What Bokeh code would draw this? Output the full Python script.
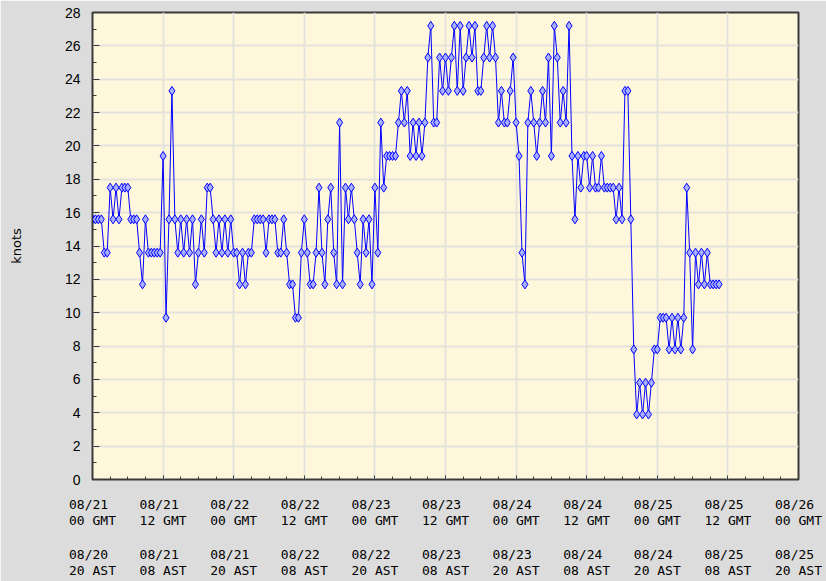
from bokeh.plotting import figure
from bokeh.models import FixedTicker, LinearAxis, Range1d
from bokeh.embed import file_html
from bokeh.resources import INLINE

# wind speed (knots), one reading every half hour, starting 08/21 00 GMT
day_0821 = [15.6, 15.6, 15.6, 15.6, 13.6, 13.6, 17.5, 15.6,
            17.5, 15.6, 17.5, 17.5, 17.5, 15.6, 15.6, 15.6,
            13.6, 11.7, 15.6, 13.6, 13.6, 13.6, 13.6, 13.6,
            19.4, 9.7, 15.6, 23.3, 15.6, 13.6, 15.6, 13.6,
            15.6, 13.6, 15.6, 11.7, 13.6, 15.6, 13.6, 17.5,
            17.5, 15.6, 13.6, 15.6, 13.6, 15.6, 13.6, 15.6]
day_0822 = [13.6, 13.6, 11.7, 13.6, 11.7, 13.6, 13.6, 15.6,
            15.6, 15.6, 15.6, 13.6, 15.6, 15.6, 15.6, 13.6,
            13.6, 15.6, 13.6, 11.7, 11.7, 9.7, 9.7, 13.6,
            15.6, 13.6, 11.7, 11.7, 13.6, 17.5, 13.6, 11.7,
            15.6, 17.5, 13.6, 11.7, 21.4, 11.7, 17.5, 15.6,
            17.5, 15.6, 13.6, 11.7, 15.6, 13.6, 15.6, 11.7]
day_0823 = [17.5, 13.6, 21.4, 17.5, 19.4, 19.4, 19.4, 19.4,
            21.4, 23.3, 21.4, 23.3, 19.4, 21.4, 19.4, 21.4,
            19.4, 21.4, 25.3, 27.2, 21.4, 21.4, 25.3, 23.3,
            25.3, 23.3, 25.3, 27.2, 23.3, 27.2, 23.3, 25.3,
            27.2, 25.3, 27.2, 23.3, 23.3, 25.3, 27.2, 25.3,
            27.2, 25.3, 21.4, 23.3, 21.4, 21.4, 23.3, 25.3]
day_0824 = [21.4, 19.4, 13.6, 11.7, 21.4, 23.3, 21.4, 19.4,
            21.4, 23.3, 21.4, 25.3, 19.4, 27.2, 25.3, 21.4,
            23.3, 21.4, 27.2, 19.4, 15.6, 19.4, 17.5, 19.4,
            19.4, 17.5, 19.4, 17.5, 17.5, 19.4, 17.5, 17.5,
            17.5, 17.5, 15.6, 17.5, 15.6, 23.3, 23.3, 15.6,
            7.8, 3.9, 5.8, 3.9, 5.8, 3.9, 5.8, 7.8]
day_0825 = [7.8, 9.7, 9.7, 9.7, 7.8, 9.7, 7.8, 9.7,
            7.8, 9.7, 17.5, 13.6, 7.8, 13.6, 11.7, 13.6,
            11.7, 13.6, 11.7, 11.7, 11.7, 11.7]

knots = day_0821 + day_0822 + day_0823 + day_0824 + day_0825
hours = [0.5 * i for i in range(len(knots))]

tick_hours = [0, 12, 24, 36, 48, 60, 72, 84, 96, 108, 120]
gmt_dates = ["08/21", "08/21", "08/22", "08/22", "08/23", "08/23",
             "08/24", "08/24", "08/25", "08/25", "08/26"]
gmt_times = ["00 GMT", "12 GMT"] * 5 + ["00 GMT"]
ast_dates = ["08/20", "08/21", "08/21", "08/22", "08/22", "08/23",
             "08/23", "08/24", "08/24", "08/25", "08/25"]
ast_times = ["20 AST", "08 AST"] * 5 + ["20 AST"]
y_ticks = list(range(0, 29, 2))

p = figure(width=826, height=581, x_range=Range1d(0, 120), y_range=Range1d(0, 28),
           output_backend="svg", toolbar_location=None,
           min_border_left=92, min_border_right=28, min_border_top=12,
           min_border_bottom=101)
p.background_fill_color = "#fff7dc"
p.border_fill_color = "#dcdcdc"
p.outline_line_color = "#3a3a3a"
p.outline_line_width = 2

p.grid.grid_line_color = "#e4e2dc"
p.grid.grid_line_width = 2

p.line(hours, knots, line_color="#0000ff", line_width=1)
p.scatter(hours, knots, marker="diamond", size=9, line_color="#0000ff",
          fill_color="#a8b0ff", line_width=1)

mono = "DejaVu Sans Mono"
xa = p.xaxis[0]
xa.ticker = FixedTicker(ticks=tick_hours, minor_ticks=list(range(0, 121, 3)))
xa.major_label_overrides = {h: d + " \n" + t for h, d, t in zip(tick_hours, gmt_dates, gmt_times)}
xa.major_label_text_font = mono
xa.major_label_text_font_size = "13px"
xa.major_label_text_color = "#000000"
xa.major_label_text_line_height = 1.12
xa.major_label_standoff = 17
xa.axis_line_color = "#3a3a3a"
xa.major_tick_in = 4
xa.major_tick_out = 0
xa.minor_tick_in = 3
xa.minor_tick_out = 0
xa.major_tick_line_color = "#3a3a3a"
xa.minor_tick_line_color = "#3a3a3a"

ast = LinearAxis(ticker=FixedTicker(ticks=tick_hours, minor_ticks=[]),
                 major_label_overrides={h: d + " \n" + t for h, d, t in zip(tick_hours, ast_dates, ast_times)})
ast.axis_line_color = None
ast.major_tick_line_color = None
ast.minor_tick_line_color = None
ast.major_label_text_font = mono
ast.major_label_text_font_size = "13px"
ast.major_label_text_color = "#000000"
ast.major_label_text_line_height = 1.12
ast.major_label_standoff = 9
p.add_layout(ast, "below")

ya = p.yaxis[0]
ya.ticker = FixedTicker(ticks=y_ticks, minor_ticks=list(range(0, 29)))
ya.axis_label = "knots"
ya.axis_label_text_font = "DejaVu Sans"
ya.axis_label_text_font_style = "normal"
ya.axis_label_text_font_size = "13px"
ya.axis_label_text_color = "#000000"
ya.axis_label_standoff = 38
ya.major_label_text_font = "Liberation Sans"
ya.major_label_text_font_size = "14px"
ya.major_label_text_color = "#000000"
ya.major_label_standoff = 12
ya.axis_line_color = "#3a3a3a"
ya.major_tick_in = 7
ya.major_tick_out = 0
ya.minor_tick_in = 4
ya.minor_tick_out = 0
ya.major_tick_line_color = "#3a3a3a"
ya.minor_tick_line_color = "#3a3a3a"

open("out.html", "w").write(file_html(p, INLINE))
